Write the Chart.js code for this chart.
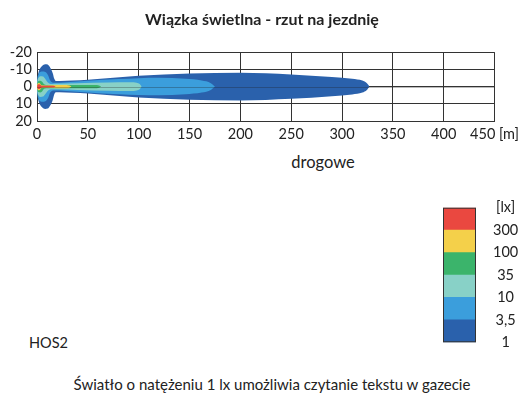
<!DOCTYPE html>
<html lang="pl">
<head>
<meta charset="utf-8">
<script src="https://cdn.jsdelivr.net/npm/chart.js@4.4.1/dist/chart.umd.min.js"></script>
<style>
  html, body { margin: 0; padding: 0; background: #fff; }
  #wrap { position: relative; width: 524px; height: 398px; overflow: hidden; font-family: Lato, sans-serif; color: #222; }
  #beam { position: absolute; left: 0; top: 0; }
  #scale { position: absolute; left: 443px; top: 190px; }
  .note { position: absolute; white-space: nowrap; line-height: 1.2; }
</style>
</head>
<body>
<div id="wrap">
  <canvas id="beam" width="524" height="150"></canvas>
  <div class="note" style="left:323px; top:153px; font-size:16.5px; transform:translateX(-50%)">drogowe</div>
  <canvas id="scale" width="81" height="170"></canvas>
  <div class="note" style="left:29px; top:334px; font-size:14.5px">HOS2</div>
  <div class="note" style="left:272px; top:375px; font-size:15px; transform:translateX(-50%)">Światło o natężeniu 1 lx umożliwia czytanie tekstu w gazecie</div>
</div>
<script>
// distance along the road [m] and half width of each isolux zone [m]
const lx1X = [0, 0.5, 1.5, 3, 5, 8, 10.5, 13, 15.5, 17, 18.5, 22, 35, 50, 75, 100, 150, 200, 250, 290, 310, 320, 324.5, 327]
const lx1W = [0, 5, 8.2, 10.5, 12, 13, 12.8, 11, 7.8, 4.5, 3.3, 3.3, 3.6, 4.0, 5.2, 6.3, 7.6, 8.1, 7.1, 5.6, 4.6, 3.5, 2.0, 0]
const lx35X = [0, 0.5, 1.5, 3, 6, 9, 11, 13, 15, 17, 22, 50, 80, 100, 120, 146, 162, 171, 175]
const lx35W = [0, 4.5, 7, 8.5, 8.8, 8.2, 6.5, 3.5, 2.4, 2.2, 2.3, 3.4, 4.4, 4.9, 5.1, 4.5, 3.5, 2.0, 0]
const lx10X = [0, 0.5, 1.5, 3.5, 6, 8, 10, 12, 15, 20, 40, 70, 92, 98, 101, 103]
const lx10W = [0, 3.5, 5.2, 6, 5.8, 4.5, 2.8, 1.8, 1.5, 1.6, 2.0, 2.4, 2.5, 2.2, 1.5, 0]
const lx35bX = [0, 0.5, 1.5, 3, 5, 7, 9, 20, 40, 57, 61, 63]
const lx35bW = [0, 2.2, 3.2, 3.4, 2.8, 1.3, 0.9, 0.9, 1.0, 1.0, 0.7, 0]
const lx100X = [0, 0.5, 1.5, 3, 4.5, 10, 20, 29, 32, 34]
const lx100W = [0, 1.5, 2.1, 1.8, 0.8, 0.7, 0.9, 0.9, 0.6, 0]
const lx300X = [0, 0.5, 1.5, 3, 4.5, 10, 16, 18.5]
const lx300W = [0, 1.1, 1.4, 1.2, 0.5, 0.45, 0.45, 0]

const xTicks = [0, 50, 100, 150, 200, 250, 300, 350, 400, 450]
const yTicks = [-20, -10, 0, 10, 20]
const bandLabels = ["1", "3,5", "10", "35", "100", "300", "[lx]"]
const bandValues = [1, 1, 1, 1, 1, 1]

const colors = {
  red: "#ea4840",
  yellow: "#f4d04a",
  green: "#3bb46b",
  teal: "#88d1c7",
  lightBlue: "#3b9edc",
  darkBlue: "#2a61ac",
}
const bandColors = [colors.darkBlue, colors.lightBlue, colors.teal, colors.green, colors.yellow, colors.red]

Chart.defaults.font.family = "Lato, 'Open Sans', sans-serif"
Chart.defaults.color = "#222"

function zone(xs, ws, color) {
  const upper = xs.map((x, i) => ({ x: x, y: -ws[i] }))
  const lower = xs.map((x, i) => ({ x: x, y: ws[i] }))
  const common = {
    borderColor: "transparent",
    borderWidth: 0,
    pointRadius: 0,
    cubicInterpolationMode: "monotone",
  }
  return [
    { ...common, data: upper, backgroundColor: color, fill: "+1" },
    { ...common, data: lower, fill: false },
  ]
}

// first dataset is drawn on top
const datasets = [
  ...zone(lx300X, lx300W, colors.red),
  ...zone(lx100X, lx100W, colors.yellow),
  ...zone(lx35bX, lx35bW, colors.green),
  ...zone(lx10X, lx10W, colors.teal),
  ...zone(lx35X, lx35W, colors.lightBlue),
  ...zone(lx1X, lx1W, colors.darkBlue),
]

const zeroLine = {
  id: "zeroLine",
  afterDatasetsDraw(chart) {
    const { ctx, chartArea, scales } = chart
    const y = Math.round(scales.y.getPixelForValue(0)) + 0.5
    ctx.save()
    ctx.strokeStyle = "rgba(30,30,30,0.3)"
    ctx.lineWidth = 1
    ctx.beginPath()
    ctx.moveTo(chartArea.left, y)
    ctx.lineTo(chartArea.right, y)
    ctx.stroke()
    ctx.restore()
  },
}

new Chart(document.getElementById("beam"), {
  type: "line",
  data: { datasets: datasets },
  plugins: [zeroLine],
  options: {
    responsive: false,
    animation: false,
    events: [],
    plugins: {
      legend: { display: false },
      tooltip: { enabled: false },
      title: {
        display: true,
        text: "Wiązka świetlna - rzut na jezdnię",
        color: "#222",
        font: { size: 16, weight: "bold" },
        padding: { top: 10, bottom: 23 },
      },
    },
    scales: {
      x: {
        type: "linear",
        min: 0,
        max: 450,
        afterBuildTicks: (axis) => { axis.ticks = xTicks.map((v) => ({ value: v })) },
        ticks: {
          padding: 5,
          autoSkip: false,
          font: { size: 14.5 },
          color: "#222",
          maxRotation: 0,
          callback: (v) => (v === 450 ? "450 [m]" : v),
        },
        grid: { color: "#333", drawTicks: false },
        border: { color: "#333" },
        afterFit: (axis) => { axis.height = 29 },
      },
      y: {
        type: "linear",
        min: -20,
        max: 20,
        reverse: true,
        afterBuildTicks: (axis) => { axis.ticks = yTicks.map((v) => ({ value: v })) },
        ticks: { padding: 5, autoSkip: false, font: { size: 14.5 }, color: "#222" },
        grid: { color: "#333", drawTicks: false },
        border: { color: "#333" },
        afterFit: (axis) => { axis.width = 37 },
      },
    },
  },
})

const outline = {
  id: "outline",
  afterDatasetsDraw(chart) {
    const { ctx, chartArea } = chart
    ctx.save()
    ctx.strokeStyle = "#333"
    ctx.lineWidth = 1
    ctx.strokeRect(chartArea.left + 0.5, chartArea.top + 0.5, chartArea.width - 1, chartArea.height - 1)
    ctx.restore()
  },
}

new Chart(document.getElementById("scale"), {
  type: "bar",
  data: {
    labels: ["lx"],
    datasets: bandValues.map((v, i) => ({
      data: [v],
      backgroundColor: bandColors[i],
      borderWidth: 0,
      barPercentage: 1,
      categoryPercentage: 1,
    })),
  },
  plugins: [outline],
  options: {
    responsive: false,
    animation: false,
    events: [],
    layout: { padding: { top: 15, bottom: 16, left: 0, right: 0 } },
    plugins: { legend: { display: false }, tooltip: { enabled: false } },
    scales: {
      x: { stacked: true, display: false },
      y: {
        stacked: true,
        position: "right",
        min: 0,
        max: bandLabels.length - 1,
        ticks: {
          stepSize: 1,
          padding: 9,
          autoSkip: false,
          crossAlign: "center",
          font: { size: 14.5 },
          color: "#222",
          callback: (v) => bandLabels[v],
        },
        grid: { display: false },
        border: { display: false },
        afterFit: (axis) => { axis.width = 48 },
      },
    },
  },
})
</script>
</body>
</html>
